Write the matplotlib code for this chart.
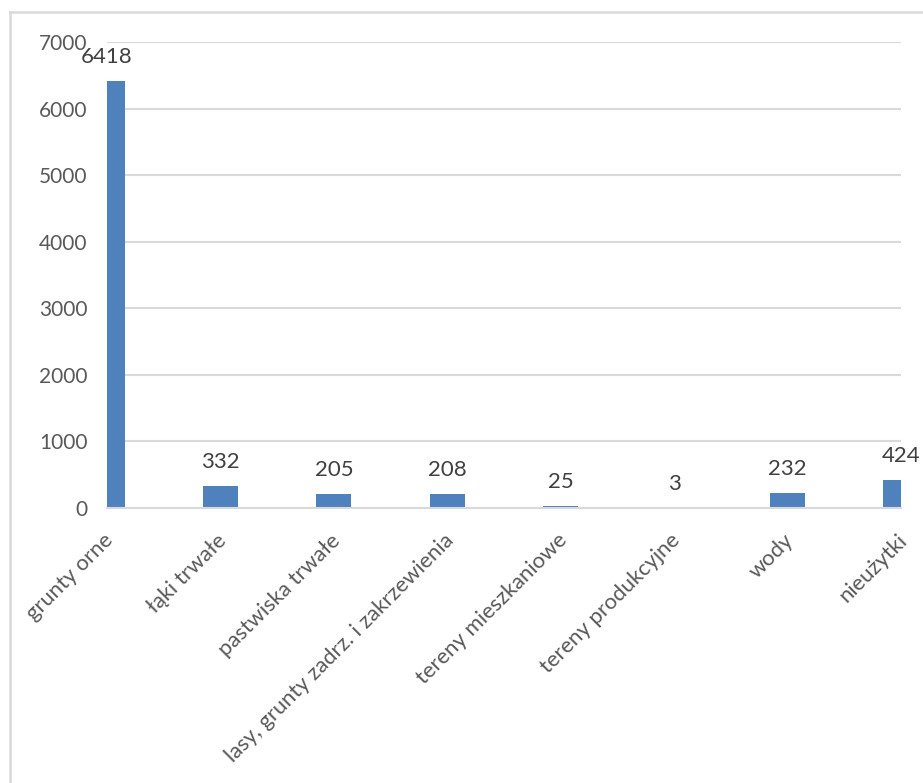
import matplotlib
matplotlib.use("Agg")
import matplotlib.pyplot as plt
from matplotlib.lines import Line2D
from matplotlib.transforms import ScaledTranslation

plt.rcParams['font.family'] = ['Lato', 'DejaVu Sans']

categories = ["grunty orne", "łąki trwałe", "pastwiska trwałe",
              "lasy, grunty zadrz. i zakrzewienia", "tereny mieszkaniowe",
              "tereny produkcyjne", "wody", "nieużytki"]
values = [6418, 332, 205, 208, 25, 3, 232, 424]
y_ticks = [0, 1000, 2000, 3000, 4000, 5000, 6000, 7000]

W, H = 923, 783
fig = plt.figure(figsize=(W / 100, H / 100), dpi=100)
ax = fig.add_axes([107 / W, 275 / H, (901 - 107) / W, (741 - 275) / H])

x = list(range(len(categories)))
bars = ax.bar(x, values, width=0.31, color="#4f81bd", zorder=3)
ax.set_xlim(0, len(categories) - 1)
ax.set_ylim(0, 7000)
ax.set_yticks(y_ticks)
ax.grid(axis="y", color="#d9d9d9", linewidth=1.5, zorder=0)

for s in ["top", "right", "left"]:
    ax.spines[s].set_visible(False)
ax.spines["bottom"].set_color("#d9d9d9")
ax.spines["bottom"].set_linewidth(1.5)
ax.spines["bottom"].set_zorder(4)

ax.tick_params(axis="y", length=0, pad=14, labelsize=15, labelcolor="#595959")
ax.tick_params(axis="x", length=0, pad=16, labelsize=15.8, labelcolor="#595959")
ax.set_xticks(x)
ax.set_xticklabels(categories, rotation=45, ha="right", va="top",
                   rotation_mode="anchor")
shift = ScaledTranslation(-3 / 72, 0, fig.dpi_scale_trans)
for lbl in ax.get_xticklabels():
    lbl.set_transform(lbl.get_transform() + shift)

for xi, v in zip(x, values):
    ax.annotate(str(v), (xi, v), xytext=(0, 10), textcoords="offset points",
                ha="center", va="bottom", fontsize=16, color="#404040",
                annotation_clip=False)

# chart frame (cropped at right and bottom)
fig.add_artist(Line2D([10 / W, 10 / W], [0, 1 - 12 / H], color="#d9d9d9", linewidth=1.8))
fig.add_artist(Line2D([10 / W, 1], [1 - 12 / H, 1 - 12 / H], color="#d9d9d9", linewidth=1.8))

fig.savefig("out.png", dpi=100)
